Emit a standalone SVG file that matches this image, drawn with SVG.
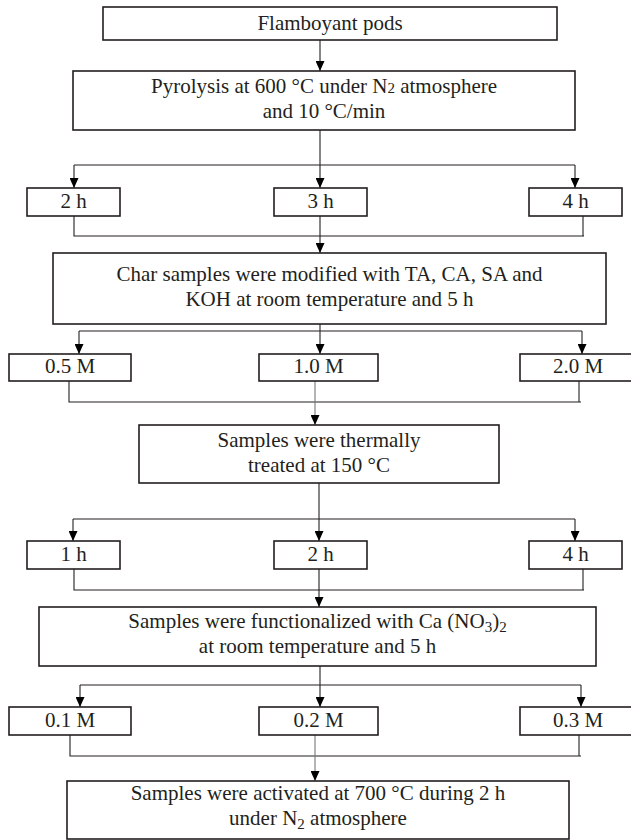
<svg xmlns="http://www.w3.org/2000/svg" width="631" height="840" viewBox="0 0 631 840">
<style>
.box{fill:#fff;stroke:#231f20;stroke-width:1.6}
.t{font-family:"Liberation Serif",serif;font-size:21px;fill:#231f20;text-anchor:middle}
.c{fill:none;stroke:#231f20;stroke-width:1.1}
.g{stroke:#777}
</style>
<defs>
<marker id="ah" markerUnits="userSpaceOnUse" markerWidth="10" markerHeight="9" refX="10" refY="4.5" orient="auto">
<path d="M0,0 L10,4.5 L0,9 z" fill="#000"/>
</marker>
</defs>
<rect width="631" height="840" fill="#fff"/>
<g id="connectors">
<line class="c" x1="320" y1="40" x2="320" y2="71" marker-end="url(#ah)"/>
<line class="c" x1="320" y1="130" x2="320" y2="188" marker-end="url(#ah)"/>
<line class="c" x1="74" y1="165" x2="575" y2="165"/>
<line class="c" x1="74" y1="165" x2="74" y2="188" marker-end="url(#ah)"/>
<line class="c" x1="575" y1="165" x2="575" y2="188" marker-end="url(#ah)"/>
<polyline class="c" points="74,216 74,236 584,236"/>
<line class="c" x1="583" y1="216" x2="583" y2="236"/>
<line class="c" x1="320" y1="216" x2="320" y2="253" marker-end="url(#ah)"/>
<line class="c" x1="320" y1="324" x2="320" y2="354" marker-end="url(#ah)"/>
<line class="c" x1="79" y1="331" x2="582" y2="331"/>
<line class="c" x1="79" y1="331" x2="79" y2="354" marker-end="url(#ah)"/>
<line class="c" x1="582" y1="331" x2="582" y2="354" marker-end="url(#ah)"/>
<polyline class="c" points="69,381 69,402 581,402"/>
<line class="c" x1="579" y1="381" x2="579" y2="402"/>
<line class="c g" x1="315" y1="381" x2="315" y2="425" marker-end="url(#ah)"/>
<line class="c" x1="319" y1="483" x2="319" y2="541" marker-end="url(#ah)"/>
<line class="c" x1="73" y1="519" x2="575" y2="519"/>
<line class="c" x1="73" y1="519" x2="73" y2="541" marker-end="url(#ah)"/>
<line class="c" x1="575" y1="519" x2="575" y2="541" marker-end="url(#ah)"/>
<polyline class="c" points="74,569 74,590 584,590"/>
<line class="c" x1="583" y1="569" x2="583" y2="590"/>
<line class="c" x1="319" y1="569" x2="319" y2="607" marker-end="url(#ah)"/>
<line class="c" x1="320" y1="666" x2="320" y2="707" marker-end="url(#ah)"/>
<line class="c" x1="80" y1="685" x2="581" y2="685"/>
<line class="c" x1="80" y1="685" x2="80" y2="707" marker-end="url(#ah)"/>
<line class="c" x1="581" y1="685" x2="581" y2="707" marker-end="url(#ah)"/>
<polyline class="c" points="70,735 70,756 581,756"/>
<line class="c" x1="579" y1="735" x2="579" y2="756"/>
<line class="c g" x1="315" y1="735" x2="315" y2="781" marker-end="url(#ah)"/>
</g>
<g id="n-flamboyant"><rect class="box" x="103" y="7" width="454" height="33"/><text class="t" x="330" y="30">Flamboyant pods</text></g>
<g id="n-pyrolysis"><rect class="box" x="73" y="71" width="502" height="59"/><text class="t" x="324" y="93">Pyrolysis at 600 °C under N<tspan font-size="15">2</tspan> atmosphere</text><text class="t" x="324" y="118">and 10 °C/min</text></g>
<g id="n-2h-a"><rect class="box" x="27" y="188" width="93" height="28"/><text class="t" x="73.5" y="208">2 h</text></g>
<g id="n-3h-a"><rect class="box" x="274" y="188" width="93" height="28"/><text class="t" x="320.5" y="208">3 h</text></g>
<g id="n-4h-a"><rect class="box" x="529" y="188" width="93" height="28"/><text class="t" x="575.5" y="208">4 h</text></g>
<g id="n-char"><rect class="box" x="53" y="253" width="553" height="71"/><text class="t" x="329.5" y="281">Char samples were modified with TA, CA, SA and</text><text class="t" x="329.5" y="306">KOH at room temperature and 5 h</text></g>
<g id="n-05M"><rect class="box" x="9" y="354" width="122" height="27"/><text class="t" x="70" y="373">0.5 M</text></g>
<g id="n-10M"><rect class="box" x="259" y="354" width="119" height="27"/><text class="t" x="318.5" y="373">1.0 M</text></g>
<g id="n-20M"><rect class="box" x="520" y="354" width="120" height="27"/><text class="t" x="578" y="373">2.0 M</text></g>
<g id="n-thermal"><rect class="box" x="139" y="425" width="360" height="58"/><text class="t" x="319" y="447">Samples were thermally</text><text class="t" x="319" y="472">treated at 150 °C</text></g>
<g id="n-1h"><rect class="box" x="27" y="541" width="93" height="28"/><text class="t" x="73.5" y="561">1 h</text></g>
<g id="n-2h-b"><rect class="box" x="274" y="541" width="93" height="28"/><text class="t" x="320.5" y="561">2 h</text></g>
<g id="n-4h-b"><rect class="box" x="529" y="541" width="93" height="28"/><text class="t" x="575.5" y="561">4 h</text></g>
<g id="n-func"><rect class="box" x="39" y="607" width="557" height="59"/><text class="t" x="317.5" y="628">Samples were functionalized with Ca (NO<tspan font-size="15" dy="4">3</tspan><tspan dy="-4">)</tspan><tspan font-size="15" dy="4">2</tspan></text><text class="t" x="317.5" y="653">at room temperature and 5 h</text></g>
<g id="n-01M"><rect class="box" x="9" y="707" width="122" height="28"/><text class="t" x="70" y="727">0.1 M</text></g>
<g id="n-02M"><rect class="box" x="259" y="707" width="119" height="28"/><text class="t" x="318.5" y="727">0.2 M</text></g>
<g id="n-03M"><rect class="box" x="520" y="707" width="120" height="28"/><text class="t" x="578" y="727">0.3 M</text></g>
<g id="n-activated"><rect class="box" x="67" y="781" width="502" height="58"/><text class="t" x="318" y="800">Samples were activated at 700 °C during 2 h</text><text class="t" x="318" y="825">under N<tspan font-size="15" dy="4">2</tspan><tspan dy="-4"> atmosphere</tspan></text></g>
</svg>
